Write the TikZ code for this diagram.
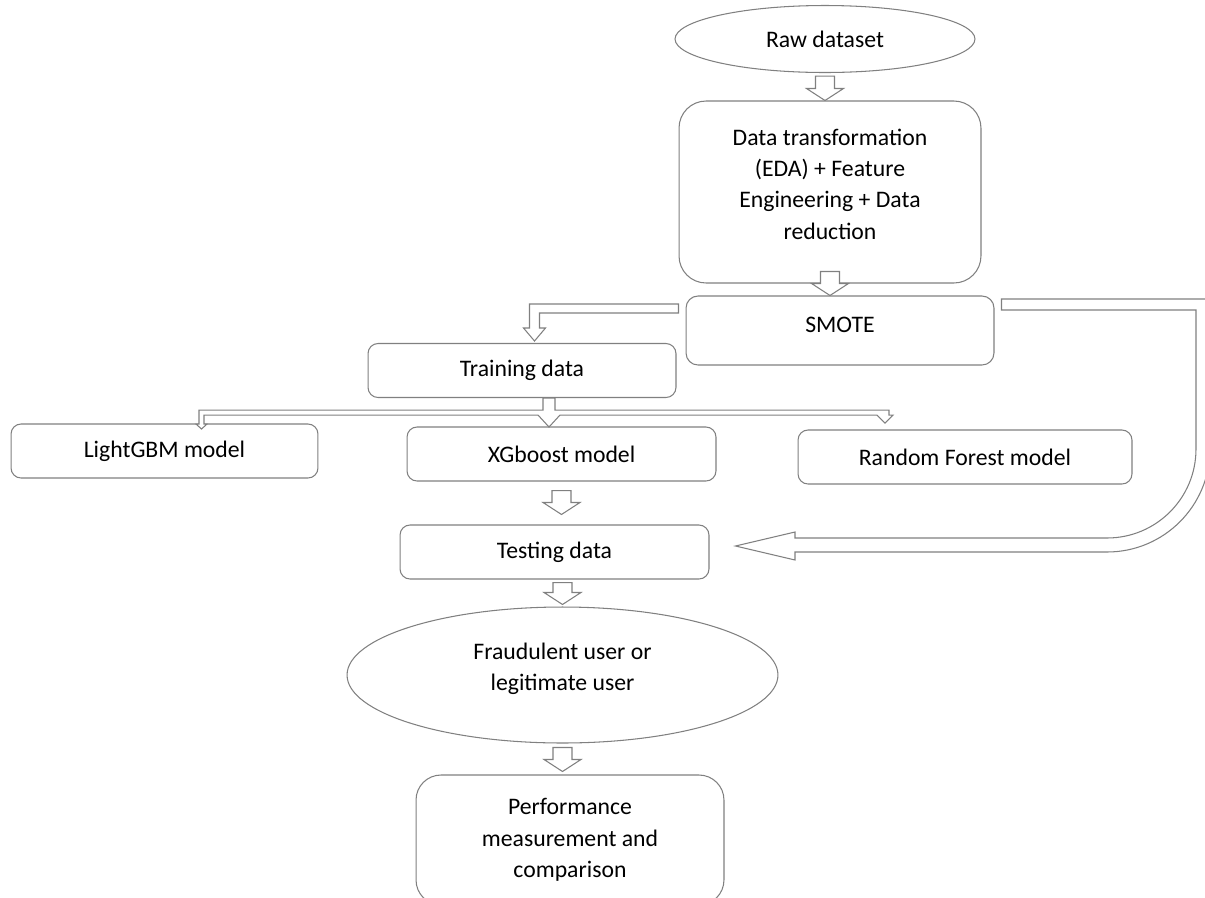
\documentclass[tikz,border=0pt]{standalone}
\usepackage{fontspec}
\setmainfont{Carlito}
\usetikzlibrary{shapes.geometric,calc}

\definecolor{linegray}{RGB}{128,128,128}

% hollow block arrow: from, to, start shift, tip shift
\newcommand{\blockarrow}[4]{%
  \draw[blockline] ($(#1)+(-9.5,#3)$) -- ($(#1 |- #2)+(-9.5,#4-12)$) -- ($(#1 |- #2)+(-18.5,#4-12)$)
    -- ($(#1 |- #2)+(0,#4)$) -- ($(#1 |- #2)+(18.5,#4-12)$) -- ($(#1 |- #2)+(9.5,#4-12)$)
    -- ($(#1)+(9.5,#3)$) -- cycle;}

\begin{document}
\begin{tikzpicture}[x=0.02cm,y=-0.02cm,
  every node/.style={font=\fontsize{13.5}{17.9}\selectfont, text=black},
  box/.style={draw=linegray, line width=0.6pt, rounded corners=0.2cm, minimum height=1.08cm, inner sep=2pt, align=center},
  oval/.style={draw=linegray, line width=0.6pt, ellipse, inner sep=0pt, align=center},
  blockline/.style={draw=linegray, line width=0.6pt, fill=white, line join=miter}]

\useasboundingbox (0,0) rectangle (1205,897);

\node[oval, minimum width=6cm, minimum height=1.34cm] (raw) at (825,39) {Raw dataset};
\node[box, rounded corners=0.54cm, minimum width=6.04cm, minimum height=3.64cm, text depth=0.32cm] (prep) at (830,192) {Data transformation\\(EDA) + Feature\\Engineering + Data\\reduction};
\node[box, rounded corners=0.24cm, minimum width=6.16cm, minimum height=1.38cm, text depth=0.24cm] (smote) at (840,330.5) {SMOTE};

\foreach \name/\text/\x/\y/\w in {train/Training data/522/370.5/6.16, lgbm/LightGBM model/164.5/451/6.14, xgb/XGboost model/561.5/454/6.18, rf/Random Forest model/965/457/6.68, test/Testing data/554.5/552/6.18}
  \node[box, minimum width=\w cm] (\name) at (\x,\y) {\text};

\node[oval, minimum width=8.62cm, minimum height=2.72cm, text depth=0.33cm] (fraud) at (562.5,675) {Fraudulent user or\\legitimate user};
\node[box, rounded corners=0.5cm, minimum width=6.16cm, minimum height=2.6cm] (perf) at (570,840) {Performance\\measurement and\\comparison};

\coordinate (tf) at (test.south -| fraud.north);

\blockarrow{raw.south}{prep.north}{3}{0}
\blockarrow{prep.south}{smote.north}{-12}{0}
\blockarrow{xgb.south}{test.north}{9}{-10}
\blockarrow{tf}{fraud.north}{3}{-2}
\blockarrow{fraud.south}{perf.north}{4}{-3}

% SMOTE to training data
\draw[blockline] ($(smote.west)+(-7,-26.5)$) -- ++(-149,0) -- ++(0,24) -- ++(-6,0) -- ++(11,13)
  -- ++(11,-13) -- ++(-6,0) -- ++(0,-15) -- ++(139,0) -- cycle;

% training data to the three models
\draw[blockline] ($(train.south)+(21,0)$) -- ++(0,12) -- ++(-344,0) -- ++(0,14) -- ++(-3,0)
  -- ++(5.5,5) -- ++(5.5,-5) -- ++(-3,0) -- ++(0,-9) -- ++(334,0) -- ++(11,12) -- ++(11,-12)
  -- ++(317,0) -- ++(8,8) -- ++(8,-8) -- ++(-4,0) -- ++(0,-5) -- ++(-334,0) -- ++(0,-12) -- cycle;

% SMOTE round the right to testing data
\draw[blockline] ($(smote.east)+(7,-31.5)$) -- (1210,299) -- (1210,449)
  .. controls (1210,505.9) and (1163.9,552) .. (1107,552) -- (795,552) -- (795,560)
  -- ($(test.east)+(26,-6)$) -- (795,532) -- (795,538) -- (1107,538)
  .. controls (1156.2,538) and (1196,498.2) .. (1196,449) -- (1196,310)
  -- ($(smote.east)+(7,-20.5)$) -- cycle;

\end{tikzpicture}
\end{document}
